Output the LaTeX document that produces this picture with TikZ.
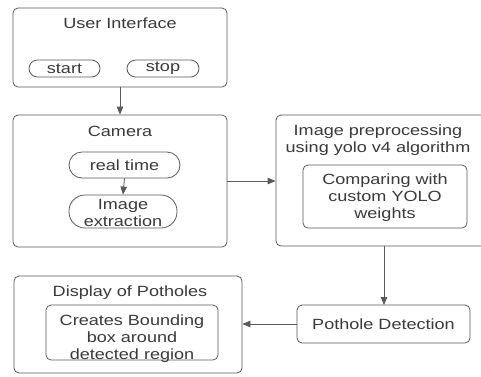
\documentclass[tikz,border=0pt]{standalone}
\usepackage{fontspec}
\setmainfont[FakeStretch=1.22]{Liberation Sans}
\usetikzlibrary{arrows.meta}
\definecolor{linegray}{HTML}{5A5A5A}
\definecolor{txtgray}{HTML}{3A3A3A}
\begin{document}
\begin{tikzpicture}[x=1pt,y=-1pt,
  every node/.style={font=\fontsize{14.8}{17}\selectfont, text=txtgray},
  box/.style={draw=linegray, line width=0.8pt, rounded corners=5pt, inner sep=0pt},
  pill/.style={draw=linegray, line width=0.8pt, rounded corners=#1, inner sep=0pt, align=center},
  txt/.style={inner sep=0pt, align=center},
  arr/.style={draw=linegray, line width=0.8pt, -{Triangle[length=8pt,width=6.5pt]}}]
\useasboundingbox (0,0) rectangle (481,376);
\fill[white] (0,0) rectangle (481,376);
% User Interface
\node[box, minimum width=214pt, minimum height=79pt] (ui) at (120,47.5) {};
\node[txt, anchor=base] (uit) at (120,28.5) {User Interface};
\node[pill=8.5pt, minimum width=71pt, minimum height=17pt] (start) at (64.5,68.5) {start};
\node[pill=8.5pt, minimum width=72pt, minimum height=17pt] (stop) at (163,68.5) {stop};
% Camera
\node[box, minimum width=214pt, minimum height=132pt] (cam) at (120,181) {};
\node[txt, anchor=base] (camt) at (120,136) {Camera};
\node[pill=13pt, minimum width=111pt, minimum height=26pt] (rt) at (124.5,165) {real time};
\node[pill=16pt, minimum width=108pt, minimum height=33pt] (ie) at (123,211.5) {};
\node[txt] (iet) at (123,213) {Image\\extraction};
% Preprocessing
\node[box, minimum width=216pt, minimum height=131pt] (pre) at (384,180.5) {};
\node[txt, anchor=base] (pret) at (378,152) {Image preprocessing\\using yolo v4 algorithm};
\node[box, minimum width=164pt, minimum height=63pt] (cmp) at (385,196.5) {};
\node[txt] (cmpt) at (385,198) {Comparing with\\custom YOLO\\weights};
% Pothole detection
\node[box, minimum width=173pt, minimum height=38pt] (pd) at (383.5,324) {Pothole Detection};
% Display
\node[box, minimum width=228pt, minimum height=97pt] (disp) at (128,324.5) {};
\node[txt, anchor=base] (dispt) at (130,296) {Display of Potholes};
\node[box, minimum width=172pt, minimum height=55pt] (bb) at (132,332.5) {};
\node[txt] (bbt) at (132,339) {Creates Bounding\\box around\\detected region};
% connectors
\draw[arr] (ui.south) -- (cam.north);
\draw[arr] (rt.south) -- (ie.north);
\draw[arr] (cam.east) -- (pre.west |- cam.east);
\draw[arr] (384,246) -- (384,305);
\draw[arr] (pd.west) -- (disp.east |- pd.west);
\end{tikzpicture}
\end{document}
